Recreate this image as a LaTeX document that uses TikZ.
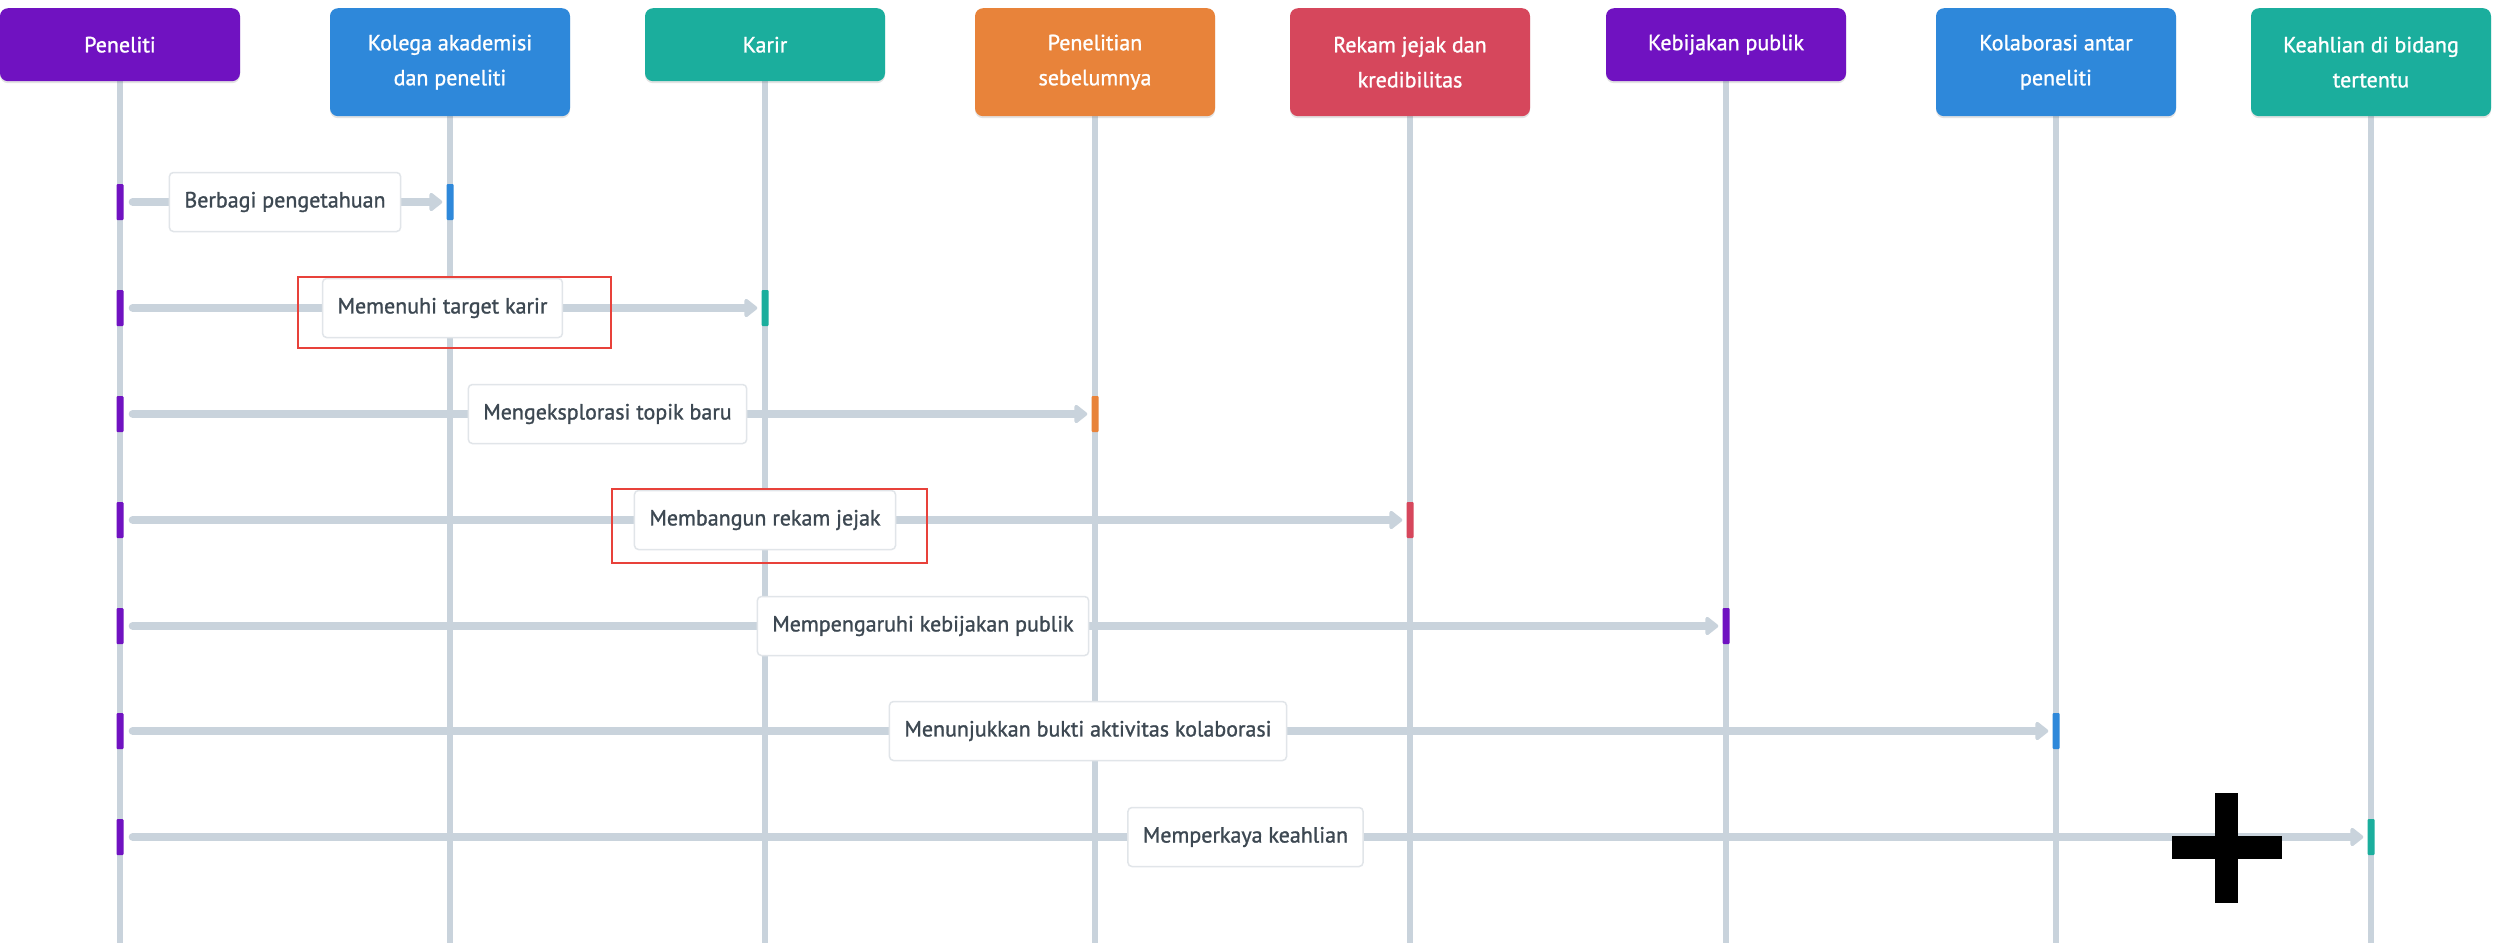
\documentclass[tikz,border=0pt]{standalone}
\usepackage{fontspec}
\setmainfont{PT Sans}[UprightFeatures={FakeBold=1.2}]
\usetikzlibrary{arrows.meta,shadows,calc}
\definecolor{cpurple}{HTML}{7012C1}
\definecolor{cblue}{HTML}{2E88DA}
\definecolor{cteal}{HTML}{1BAE9D}
\definecolor{corange}{HTML}{E8833A}
\definecolor{cred}{HTML}{D6475C}
\definecolor{lline}{HTML}{C9D3DC}
\definecolor{lborder}{HTML}{E1E5E9}
\definecolor{ltext}{HTML}{3D4852}
\definecolor{markred}{HTML}{E8413A}
\begin{document}
\begin{tikzpicture}[x=1pt,y=-1pt,
  head/.style={rounded corners=8pt, minimum width=240pt, text=white, align=center,
    anchor=north, inner sep=0pt, font=\fontsize{22}{35}\selectfont,
    drop shadow={shadow xshift=0pt, shadow yshift=-2pt, opacity=0.18, fill=black!60}},
  headone/.style={head, minimum height=73pt},
  headtwo/.style={head, minimum height=108pt},
  lifeline/.style={draw=lline, line width=6pt},
  actbar/.style={minimum width=7pt, minimum height=36pt, inner sep=0pt, rounded corners=1pt},
  msg/.style={draw=lline, line width=8pt, line cap=round, shorten <=9pt, shorten >=4pt,
    -{Triangle[length=14pt,width=21pt,round]}},
  lbl/.style={fill=white, draw=lborder, line width=1.5pt, rounded corners=4pt,
    minimum height=59pt, inner xsep=15pt, text=ltext, font=\fontsize{22}{26}\selectfont},
  redmark/.style={draw=markred, line width=2.5pt}
]
\useasboundingbox (0,0) rectangle (2503,945);
\fill[white] (0,0) rectangle (2503,945);

% lifeline bottoms
\coordinate (e1) at (120,943);
\coordinate (e2) at (450,943);
\coordinate (e3) at (765,943);
\coordinate (e4) at (1095,943);
\coordinate (e5) at (1410,943);
\coordinate (e6) at (1726,943);
\coordinate (e7) at (2056,943);
\coordinate (e8) at (2371,943);

% lifelines
\draw[lifeline] (120,60) -- (e1);
\draw[lifeline] (450,90) -- (e2);
\draw[lifeline] (765,60) -- (e3);
\draw[lifeline] (1095,90) -- (e4);
\draw[lifeline] (1410,90) -- (e5);
\draw[lifeline] (1726,60) -- (e6);
\draw[lifeline] (2056,90) -- (e7);
\draw[lifeline] (2371,90) -- (e8);

% headers
\node[headone, fill=cpurple] (h1) at (120,8) {Peneliti};
\node[headtwo, fill=cblue] (h2) at (450,8) {Kolega akademisi\\dan peneliti};
\node[headone, fill=cteal] (h3) at (765,8) {Karir};
\node[headtwo, fill=corange] (h4) at (1095,8) {Penelitian\\sebelumnya};
\node[headtwo, fill=cred] (h5) at (1410,8) {Rekam jejak dan\\kredibilitas};
\node[headone, fill=cpurple] (h6) at (1726,8) {Kebijakan publik};
\node[headtwo, fill=cblue] (h7) at (2056,8) {Kolaborasi antar\\peneliti};
\node[headtwo, fill=cteal] (h8) at (2371,8) {Keahlian di bidang\\tertentu};

% activation bars
\node[actbar, fill=cpurple] (s1) at (120,202) {};
\node[actbar, fill=cblue]   (r1) at (450,202) {};
\node[actbar, fill=cpurple] (s2) at (120,308) {};
\node[actbar, fill=cteal]   (r2) at (765,308) {};
\node[actbar, fill=cpurple] (s3) at (120,414) {};
\node[actbar, fill=corange] (r3) at (1095,414) {};
\node[actbar, fill=cpurple] (s4) at (120,520) {};
\node[actbar, fill=cred]    (r4) at (1410,520) {};
\node[actbar, fill=cpurple] (s5) at (120,626) {};
\node[actbar, fill=cpurple] (r5) at (1726,626) {};
\node[actbar, fill=cpurple] (s6) at (120,731) {};
\node[actbar, fill=cblue]   (r6) at (2056,731) {};
\node[actbar, fill=cpurple] (s7) at (120,837) {};
\node[actbar, fill=cteal]   (r7) at (2371,837) {};

% messages
\draw[msg] (s1.east) -- (r1.west);
\draw[msg] (s2.east) -- (r2.west);
\draw[msg] (s3.east) -- (r3.west);
\draw[msg] (s4.east) -- (r4.west);
\draw[msg] (s5.east) -- (r5.west);
\draw[msg] (s6.east) -- (r6.west);
\draw[msg] (s7.east) -- (r7.west);

% labels
\node[lbl] (m1) at ($(s1)!0.5!(r1)$) {Berbagi pengetahuan};
\node[lbl] (m2) at ($(s2)!0.5!(r2)$) {Memenuhi target karir};
\node[lbl] (m3) at ($(s3)!0.5!(r3)$) {Mengeksplorasi topik baru};
\node[lbl] (m4) at ($(s4)!0.5!(r4)$) {Membangun rekam jejak};
\node[lbl] (m5) at ($(s5)!0.5!(r5)$) {Mempengaruhi kebijakan publik};
\node[lbl] (m6) at ($(s6)!0.5!(r6)$) {Menunjukkan bukti aktivitas kolaborasi};
\node[lbl] (m7) at ($(s7)!0.5!(r7)$) {Memperkaya keahlian};

% red highlight boxes
\draw[redmark] (298,277) rectangle (611,348);
\draw[redmark] (612,489) rectangle (927,563);

% black plus sign
\fill[black] (2172,836) rectangle (2282,859);
\fill[black] (2215,793) rectangle (2238,903);
\end{tikzpicture}
\end{document}
